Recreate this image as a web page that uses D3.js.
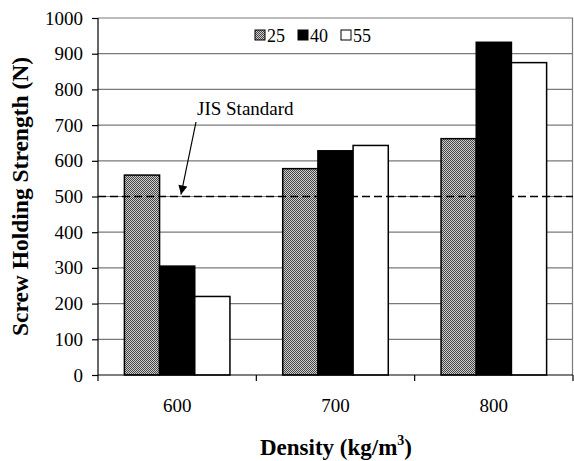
<!DOCTYPE html>
<html><head><meta charset="utf-8">
<script src="https://cdn.jsdelivr.net/npm/d3@7"></script>
<style>body{margin:0;background:#fff}svg{display:block}</style>
</head><body>
<svg id="c" width="574" height="461"></svg>
<script>
const categories = ["600", "700", "800"];
const seriesNames = ["25", "40", "55"];
const values25 = [560, 578, 662];
const values40 = [305, 628, 932];
const values55 = [220, 643, 875];
const yTicks = [0, 100, 200, 300, 400, 500, 600, 700, 800, 900, 1000];
const standardValue = 500;
const standardLabel = "JIS Standard";

const series = [values25, values40, values55];
const fills = ["url(#dots)", "#000", "#fff"];
const FF = "'Times New Roman', 'Liberation Serif', 'DejaVu Serif', serif";

const svg = d3.select("#c").attr("font-family", FF);
const m = {l: 98, r: 1, t: 18, b: 86};
const W = 574, H = 461;
const x = d3.scaleBand().domain(categories).range([m.l, W - m.r]).paddingInner(1/3).paddingOuter(1/6);
const xs = d3.scaleBand().domain(seriesNames).range([0, x.bandwidth()]);
const y = d3.scaleLinear().domain([0, 1000]).range([H - m.b, m.t]);

const defs = svg.append("defs");
const p = defs.append("pattern").attr("id", "dots").attr("width", 2).attr("height", 2).attr("patternUnits", "userSpaceOnUse");
p.append("rect").attr("width", 2).attr("height", 2).attr("fill", "#d0d0d0");
p.append("rect").attr("width", 1).attr("height", 1).attr("fill", "#444");
p.append("rect").attr("x", 1).attr("y", 1).attr("width", 1).attr("height", 1).attr("fill", "#444");
defs.append("marker").attr("id", "ah").attr("viewBox", "0 0 10 10").attr("refX", 10).attr("refY", 5)
  .attr("markerWidth", 11).attr("markerHeight", 9).attr("markerUnits", "userSpaceOnUse").attr("orient", "auto")
  .append("path").attr("d", "M0,0L10,5L0,10z").attr("fill", "#000");

// grid
svg.append("g").selectAll("line").data(yTicks.filter(d => d > 0)).join("line")
  .attr("x1", m.l).attr("x2", W - m.r).attr("y1", d => y(d)).attr("y2", d => y(d))
  .attr("stroke", "#7a7a7a").attr("stroke-width", 1.2);
svg.append("line").attr("x1", W - m.r - 0.5).attr("x2", W - m.r - 0.5).attr("y1", y(1000)).attr("y2", y(0))
  .attr("stroke", "#7a7a7a").attr("stroke-width", 1.2);

// bars
series.forEach((vals, si) => {
  svg.append("g").selectAll("rect").data(vals).join("rect")
    .attr("x", (d, i) => x(categories[i]) + xs(seriesNames[si]))
    .attr("y", d => y(d)).attr("width", xs.bandwidth()).attr("height", d => y(0) - y(d))
    .attr("fill", fills[si]).attr("stroke", "#000").attr("stroke-width", 1.5);
});

// standard dashed line
svg.append("line").attr("x1", m.l).attr("x2", W - m.r).attr("y1", y(standardValue)).attr("y2", y(standardValue))
  .attr("stroke", "#000").attr("stroke-width", 1.5).attr("stroke-dasharray", "8,4");

// axes
const ya = d3.axisLeft(y).tickValues(yTicks).tickFormat(d3.format("d")).tickSize(6).tickPadding(9);
const gy = svg.append("g").attr("transform", `translate(${m.l},0)`).call(ya).attr("font-family", FF).attr("font-size", 19);
gy.selectAll("text").attr("fill", "#000");
gy.selectAll("line,path").attr("stroke", "#000").attr("stroke-width", 1.2);
gy.select(".domain").attr("d", `M0,${y(1000)}V${y(0)}`);

const gx = svg.append("g").attr("transform", `translate(0,${y(0)})`);
gx.append("line").attr("x1", m.l).attr("x2", W - m.r).attr("stroke", "#000").attr("stroke-width", 1.2);
const bounds = [m.l, ...categories.map(c => x(c) + x.bandwidth() + x.step() * x.paddingInner() / 2)];
gx.selectAll(".tk").data(bounds).join("line").attr("class", "tk")
  .attr("x1", d => d).attr("x2", d => d).attr("y1", 0).attr("y2", 6).attr("stroke", "#000").attr("stroke-width", 1.2);
gx.selectAll(".lb").data(categories).join("text").attr("class", "lb")
  .attr("x", d => x(d) + x.bandwidth() / 2).attr("y", 37).attr("text-anchor", "middle")
  .attr("font-size", 19).text(d => d);

// axis titles
svg.append("text").attr("transform", `translate(28,${(y(0) + y(1000)) / 2}) rotate(-90)`)
  .attr("text-anchor", "middle").attr("font-size", 23.5).attr("font-weight", "bold")
  .text("Screw Holding Strength (N)");
const xt = svg.append("text").attr("x", 336).attr("y", 455).attr("text-anchor", "middle")
  .attr("font-size", 23).attr("font-weight", "bold");
xt.append("tspan").text("Density (kg/m");
xt.append("tspan").attr("dy", -10).attr("font-size", 14).text("3");
xt.append("tspan").attr("dy", 10).text(")");

// legend
const legX = [255, 298, 341];
const lg = svg.append("g");
seriesNames.forEach((s, i) => {
  lg.append("rect").attr("x", legX[i]).attr("y", 30).attr("width", 10).attr("height", 10)
    .attr("fill", fills[i]).attr("stroke", "#000").attr("stroke-width", 1);
  lg.append("text").attr("x", legX[i] + 12).attr("y", 42).attr("font-size", 18).text(s);
});

// annotation
svg.append("text").attr("x", 197).attr("y", 115).attr("font-size", 19).text(standardLabel);
svg.append("line").attr("x1", 196).attr("y1", 122).attr("x2", 181).attr("y2", y(standardValue) - 2)
  .attr("stroke", "#000").attr("stroke-width", 1.2).attr("marker-end", "url(#ah)");
</script>
</body></html>
